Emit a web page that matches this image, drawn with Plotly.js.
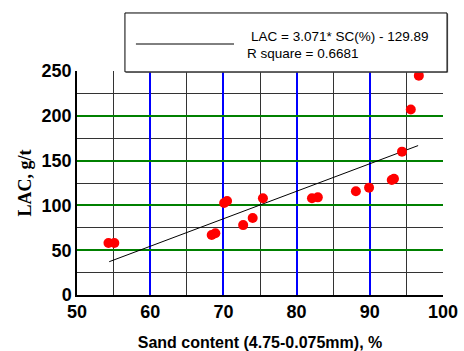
<!DOCTYPE html>
<html><head><meta charset="utf-8">
<script src="https://cdn.plot.ly/plotly-3.0.1.min.js"></script>
<style>body{margin:0;background:#fff}#c{width:464px;height:351px}</style>
</head><body><div id="c"></div>
<script>
const sandContent = [54.3, 55.1, 68.4, 68.9, 70.1, 70.5, 72.7, 74.0, 75.4, 82.1, 82.9, 88.1, 89.9, 93.0, 93.3, 94.4, 95.6, 96.7];
const lacValues   = [58, 58, 67, 69, 102.7, 105, 78, 86, 108, 108, 109, 115.7, 119.8, 128.3, 129.8, 160, 207, 244.8];
const fitX = [54.4, 96.6];
const slope = 3.071, intercept = -129.89;
const fitY = fitX.map(x => slope * x + intercept);
const xTicks = [50, 60, 70, 80, 90, 100];
const yTicks = [0, 50, 100, 150, 200, 250];
const eqText = "LAC = 3.071* SC(%) - 129.89";
const r2Text = "R square = 0.6681";

const F = "Liberation Sans";
const data = [
  {x: fitX, y: fitY, mode: 'lines', line: {color: '#000', width: 1}},
  {x: sandContent, y: lacValues, mode: 'markers', marker: {color: '#ff0000', size: 10}}
];
const layout = {
  width: 464, height: 351,
  margin: {l: 77, r: 21, t: 71, b: 56},
  paper_bgcolor: '#fff', plot_bgcolor: '#fff',
  showlegend: false,
  xaxis: {
    range: [50, 100], tickvals: xTicks,
    showgrid: true, gridcolor: 'blue', gridwidth: 2,
    minor: {tickvals: [55, 65, 75, 85, 95], showgrid: true, gridcolor: '#333', gridwidth: 1},
    showline: true, linecolor: '#000', linewidth: 1.5,
    zeroline: false,
    tickfont: {family: F, size: 18, color: '#000', weight: 'bold'},
    title: {text: 'Sand content (4.75-0.075mm), %', font: {family: F, size: 16, color: '#000', weight: 'bold'}}
  },
  yaxis: {
    range: [0, 250], tickvals: yTicks,
    showgrid: true, gridcolor: 'green', gridwidth: 2,
    minor: {tickvals: [25, 75, 125, 175, 225], showgrid: true, gridcolor: '#333', gridwidth: 1},
    showline: true, linecolor: '#000', linewidth: 1.5,
    zeroline: false,
    tickfont: {family: F, size: 18, color: '#000', weight: 'bold'},
    title: {text: 'LAC, g/t', font: {family: 'Liberation Serif', size: 18, color: '#000', weight: 'bold'}}
  },
  shapes: [
    {type: 'rect', xref: 'paper', yref: 'paper', x0: 0.134, x1: 1.014, y0: 0.992, y1: 1.256, line: {width: 0}, fillcolor: '#777'},
    {type: 'rect', xref: 'paper', yref: 'paper', x0: 0.131, x1: 1.011, y0: 0.996, y1: 1.259, line: {color: '#000', width: 1}, fillcolor: '#fff'},
    {type: 'line', xref: 'paper', yref: 'paper', x0: 0.161, x1: 0.429, y0: 1.1205, y1: 1.1205, line: {color: '#000', width: 1}}
  ],
  annotations: [
    {xref: 'paper', yref: 'paper', x: 0.469, y: 1.152, xanchor: 'left', yanchor: 'middle', text: eqText, showarrow: false, font: {family: F, size: 13.5, color: '#000'}},
    {xref: 'paper', yref: 'paper', x: 0.458, y: 1.076, xanchor: 'left', yanchor: 'middle', text: r2Text, showarrow: false, font: {family: F, size: 13.5, color: '#000'}}
  ]
};
Plotly.newPlot('c', data, layout, {displayModeBar: false});
</script></body></html>
